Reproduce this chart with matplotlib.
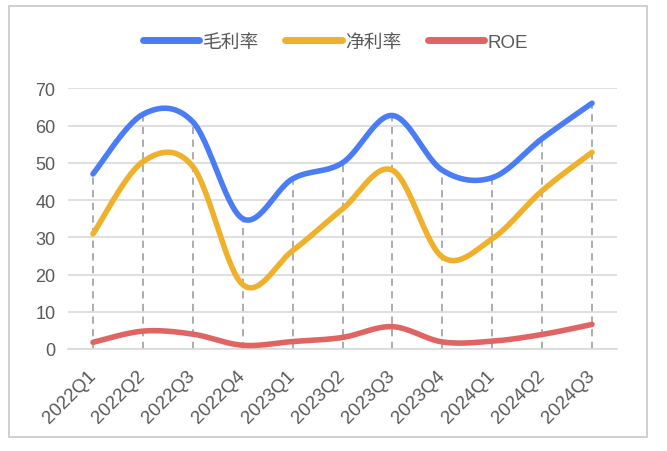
import numpy as np
import matplotlib.pyplot as plt
from matplotlib.patches import Rectangle

plt.rcParams['font.family'] = ['Liberation Sans', 'Noto Sans CJK SC']

quarters = ['2022Q1', '2022Q2', '2022Q3', '2022Q4', '2023Q1', '2023Q2',
            '2023Q3', '2023Q4', '2024Q1', '2024Q2', '2024Q3']
gross_margin = [47, 63, 61, 35, 45.7, 50, 62.7, 48, 46, 56.5, 66]
net_margin = [30.9, 50.3, 49, 17.3, 26.4, 37.6, 48, 24.7, 29.6, 42.5, 52.8]
roe = [1.8, 4.8, 4.0, 1.0, 2.0, 3.1, 6.0, 1.9, 2.1, 3.9, 6.6]

series = [('毛利率', gross_margin, '#4a7cf6'),
          ('净利率', net_margin, '#efb12c'),
          ('ROE', roe, '#e06562')]


def smooth(x, y, n=30):
    # Excel-style smoothed line: cubic Bezier through points (Catmull-Rom)
    x = np.asarray(x, float)
    y = np.asarray(y, float)
    px = np.concatenate([[x[0]], x, [x[-1]]])
    py = np.concatenate([[y[0]], y, [y[-1]]])
    xs, ys = [], []
    t = np.linspace(0, 1, n)
    for i in range(1, len(px) - 2):
        p0 = np.array([px[i], py[i]])
        p3 = np.array([px[i + 1], py[i + 1]])
        p1 = p0 + (np.array([px[i + 1], py[i + 1]]) - np.array([px[i - 1], py[i - 1]])) / 6
        p2 = p3 - (np.array([px[i + 2], py[i + 2]]) - np.array([px[i], py[i]])) / 6
        b = ((1 - t) ** 3)[:, None] * p0 + (3 * (1 - t) ** 2 * t)[:, None] * p1 \
            + (3 * (1 - t) * t ** 2)[:, None] * p2 + (t ** 3)[:, None] * p3
        xs.append(b[:, 0])
        ys.append(b[:, 1])
    return np.concatenate(xs), np.concatenate(ys)


fig = plt.figure(figsize=(6.67, 4.52), dpi=100)
fig.patches.append(Rectangle((9 / 667, 1 - 438 / 452), 638 / 667, 431 / 452,
                             transform=fig.transFigure, fill=False,
                             edgecolor='#c8c8c8', linewidth=1.2))
ax = fig.add_axes([68 / 667, 1 - 350 / 452, 549 / 667, 260.7 / 452])

x = np.arange(len(quarters))
tops = np.max([gross_margin, net_margin, roe], axis=0)
ax.vlines(x, 0, tops, colors='#a6a6a6', linestyles=(0, (4, 3)), linewidth=1.3, zorder=2)

for name, vals, color in series:
    sx, sy = smooth(x, vals)
    ax.plot(sx, sy, color=color, linewidth=4, label=name,
            solid_capstyle='round', zorder=3)

ax.set_xlim(-0.5, len(quarters) - 0.5)
ax.set_ylim(0, 70)
ax.set_yticks(range(0, 71, 10))
ax.set_xticks(x)
ax.set_xticklabels(quarters, rotation=45, ha='right', va='center',
                   rotation_mode='anchor')
ax.tick_params(axis='both', length=0, labelsize=13, colors='#595959')
ax.tick_params(axis='y', pad=9)
ax.tick_params(axis='x', pad=17, labelsize=13.5)
ax.grid(axis='y', color='#d9d9d9', linewidth=1.2)
ax.set_axisbelow(True)
for s in ['top', 'right', 'left']:
    ax.spines[s].set_visible(False)
ax.spines['bottom'].set_color('#d9d9d9')
ax.spines['bottom'].set_linewidth(1.2)

leg = fig.legend(loc='center', bbox_to_anchor=(0.503, 1 - 43 / 452), ncol=3,
                 frameon=False, fontsize=13.5, handlelength=3.0, handletextpad=0.2,
                 columnspacing=1.4)
for t in leg.get_texts():
    t.set_color('#595959')
for h in leg.get_lines():
    h.set_linewidth(5)

fig.savefig('out.png', dpi=100)
